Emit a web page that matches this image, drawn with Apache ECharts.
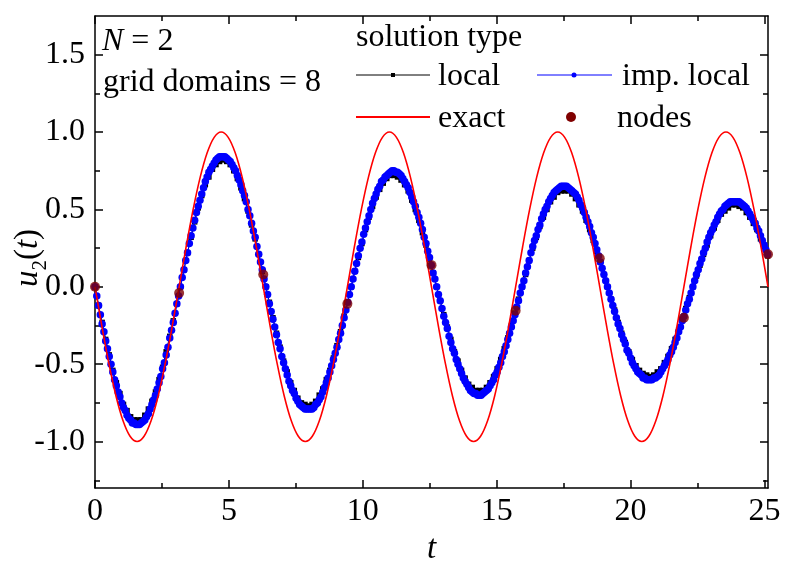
<!DOCTYPE html>
<html>
<head>
<meta charset="utf-8">
<script src="https://cdn.jsdelivr.net/npm/echarts@6/dist/echarts.min.js"></script>
<style>
  html, body { margin: 0; padding: 0; background: #fff; }
  #chart { width: 793px; height: 561px; }
</style>
</head>
<body>
<div id="chart"></div>
<script>
// t range covers 8 grid domains of width pi
const tMax = 8 * Math.PI;

// imp. local solution, sampled every tStepImp starting at t = 0
const tStepImp = 0.06645;
const impLocalU = [
  0, -0.06, -0.12, -0.18, -0.24, -0.29, -0.35, -0.40, -0.45, -0.50, -0.55, -0.60, -0.64, -0.68, -0.71, -0.75, -0.78, -0.80, -0.83, -0.85, -0.86, -0.88, -0.88, -0.89, -0.89,
  -0.89, -0.88, -0.87, -0.86, -0.84, -0.82, -0.79, -0.76, -0.73, -0.70, -0.66, -0.62, -0.58, -0.53, -0.49, -0.44, -0.39, -0.33, -0.28, -0.23, -0.17, -0.11, -0.06, 0,
  0.06, 0.11, 0.17, 0.22, 0.28, 0.33, 0.38, 0.43, 0.48, 0.52, 0.56, 0.60, 0.64, 0.68, 0.71, 0.74, 0.76, 0.78, 0.80, 0.82, 0.83, 0.84, 0.84, 0.84,
  0.84, 0.83, 0.82, 0.81, 0.79, 0.77, 0.75, 0.72, 0.69, 0.66, 0.62, 0.59, 0.55, 0.50, 0.46, 0.41, 0.36, 0.32, 0.26, 0.21, 0.16, 0.11, 0.05, 0,
  -0.05, -0.11, -0.16, -0.21, -0.26, -0.31, -0.36, -0.40, -0.45, -0.49, -0.53, -0.57, -0.61, -0.64, -0.67, -0.69, -0.72, -0.74, -0.76, -0.77, -0.78, -0.79, -0.79, -0.79,
  -0.79, -0.79, -0.78, -0.76, -0.75, -0.73, -0.71, -0.68, -0.65, -0.62, -0.59, -0.55, -0.51, -0.47, -0.43, -0.39, -0.34, -0.30, -0.25, -0.20, -0.15, -0.10, -0.05, 0,
  0.05, 0.10, 0.15, 0.20, 0.25, 0.29, 0.34, 0.38, 0.42, 0.46, 0.50, 0.54, 0.57, 0.60, 0.63, 0.65, 0.68, 0.69, 0.71, 0.72, 0.73, 0.74, 0.75, 0.75,
  0.74, 0.74, 0.73, 0.72, 0.70, 0.68, 0.66, 0.64, 0.61, 0.58, 0.55, 0.52, 0.48, 0.45, 0.41, 0.37, 0.32, 0.28, 0.23, 0.19, 0.14, 0.09, 0.05, 0,
  -0.05, -0.09, -0.14, -0.19, -0.23, -0.27, -0.32, -0.36, -0.40, -0.43, -0.47, -0.50, -0.53, -0.56, -0.59, -0.61, -0.63, -0.65, -0.67, -0.68, -0.69, -0.69, -0.70, -0.70,
  -0.70, -0.69, -0.68, -0.67, -0.66, -0.64, -0.62, -0.60, -0.57, -0.55, -0.52, -0.49, -0.45, -0.42, -0.38, -0.34, -0.30, -0.26, -0.22, -0.18, -0.13, -0.09, -0.04, 0,
  0.04, 0.09, 0.13, 0.17, 0.22, 0.26, 0.30, 0.33, 0.37, 0.40, 0.44, 0.47, 0.50, 0.52, 0.55, 0.57, 0.59, 0.61, 0.62, 0.63, 0.64, 0.65, 0.65, 0.65,
  0.65, 0.64, 0.63, 0.62, 0.61, 0.60, 0.58, 0.56, 0.53, 0.51, 0.48, 0.45, 0.42, 0.39, 0.35, 0.32, 0.28, 0.24, 0.20, 0.16, 0.12, 0.08, 0.04, 0,
  -0.04, -0.08, -0.12, -0.16, -0.20, -0.24, -0.27, -0.31, -0.34, -0.37, -0.41, -0.43, -0.46, -0.49, -0.51, -0.53, -0.55, -0.56, -0.57, -0.59, -0.59, -0.60, -0.60, -0.60,
  -0.60, -0.59, -0.59, -0.58, -0.57, -0.55, -0.53, -0.51, -0.49, -0.47, -0.44, -0.42, -0.39, -0.36, -0.33, -0.29, -0.26, -0.22, -0.19, -0.15, -0.11, -0.08, -0.04, 0,
  0.04, 0.08, 0.11, 0.15, 0.18, 0.22, 0.25, 0.29, 0.32, 0.35, 0.37, 0.40, 0.42, 0.45, 0.47, 0.49, 0.50, 0.52, 0.53, 0.54, 0.55, 0.55, 0.55, 0.55,
  0.55, 0.55, 0.54, 0.53, 0.52, 0.51, 0.49, 0.47, 0.45, 0.43, 0.41, 0.38, 0.36, 0.33, 0.30, 0.27, 0.24, 0.21
];

// local solution, sampled every tStepLocal starting at t = 0
const tStepLocal = 0.1329;
const localU = [
  0, -0.12, -0.23, -0.34, -0.44, -0.54, -0.62, -0.69, -0.76, -0.80, -0.84, -0.86, -0.86,
  -0.86, -0.83, -0.79, -0.74, -0.68, -0.60, -0.52, -0.42, -0.32, -0.22, -0.11, 0,
  0.11, 0.22, 0.32, 0.42, 0.51, 0.59, 0.66, 0.71, 0.76, 0.79, 0.81, 0.82,
  0.81, 0.79, 0.75, 0.70, 0.64, 0.57, 0.49, 0.40, 0.31, 0.21, 0.10, 0,
  -0.10, -0.20, -0.30, -0.39, -0.48, -0.55, -0.62, -0.67, -0.72, -0.75, -0.76, -0.77,
  -0.76, -0.74, -0.70, -0.66, -0.60, -0.54, -0.46, -0.38, -0.29, -0.19, -0.10, 0,
  0.10, 0.19, 0.28, 0.37, 0.45, 0.52, 0.58, 0.63, 0.67, 0.70, 0.72, 0.72,
  0.71, 0.69, 0.66, 0.62, 0.56, 0.50, 0.43, 0.35, 0.27, 0.18, 0.09, 0,
  -0.09, -0.18, -0.26, -0.34, -0.42, -0.48, -0.54, -0.59, -0.63, -0.65, -0.67, -0.67,
  -0.67, -0.65, -0.62, -0.58, -0.53, -0.47, -0.40, -0.33, -0.25, -0.17, -0.08, 0,
  0.08, 0.17, 0.25, 0.32, 0.39, 0.45, 0.50, 0.55, 0.58, 0.61, 0.62, 0.62,
  0.62, 0.60, 0.57, 0.53, 0.49, 0.43, 0.37, 0.30, 0.23, 0.16, 0.08, 0,
  -0.08, -0.15, -0.23, -0.30, -0.36, -0.42, -0.47, -0.51, -0.54, -0.56, -0.57, -0.58,
  -0.57, -0.55, -0.53, -0.49, -0.45, -0.40, -0.34, -0.28, -0.21, -0.14, -0.07, 0,
  0.07, 0.14, 0.21, 0.27, 0.33, 0.38, 0.43, 0.47, 0.49, 0.51, 0.53, 0.53,
  0.52, 0.51, 0.48, 0.45, 0.41, 0.37, 0.31, 0.26, 0.20
];

// exact solution, sampled every pi/12
const tStepExact = Math.PI / 12;
const exactU = [
  0, -0.259, -0.5, -0.707, -0.866, -0.966, -1, -0.966, -0.866, -0.707, -0.5, -0.259,
  0, 0.259, 0.5, 0.707, 0.866, 0.966, 1, 0.966, 0.866, 0.707, 0.5, 0.259,
  0, -0.259, -0.5, -0.707, -0.866, -0.966, -1, -0.966, -0.866, -0.707, -0.5, -0.259,
  0, 0.259, 0.5, 0.707, 0.866, 0.966, 1, 0.966, 0.866, 0.707, 0.5, 0.259,
  0, -0.259, -0.5, -0.707, -0.866, -0.966, -1, -0.966, -0.866, -0.707, -0.5, -0.259,
  0, 0.259, 0.5, 0.707, 0.866, 0.966, 1, 0.966, 0.866, 0.707, 0.5, 0.259,
  0, -0.259, -0.5, -0.707, -0.866, -0.966, -1, -0.966, -0.866, -0.707, -0.5, -0.259,
  0, 0.259, 0.5, 0.707, 0.866, 0.966, 1, 0.966, 0.866, 0.707, 0.5, 0.259,
  0
];

// grid nodes at t = k*pi
const nodeU = [0, -0.04, 0.08, -0.11, 0.14, -0.155, 0.185, -0.20, 0.21];

// tick positions
const xMajorTicks = [0, 5, 10, 15, 20, 25];
const xMinorTicks = [2.5, 7.5, 12.5, 17.5, 22.5];
const yMajorTicks = [-1, -0.5, 0, 0.5, 1, 1.5];
const yMinorTicks = [-1.25, -0.75, -0.25, 0.25, 0.75, 1.25];

const FONT = 'Liberation Serif';
const yMin = -1.3, yMax = 1.75;

function toPairs(step, arr) {
  return arr.map((v, i) => [i * step, v]);
}

function axisDef(dim, position, ticks, len, major, label) {
  return {
    type: 'value',
    position: position,
    min: dim === 'x' ? 0 : yMin,
    max: dim === 'x' ? tMax : yMax,
    axisLine: { show: major, onZero: false, lineStyle: { color: '#000', width: 1.5 } },
    axisTick: { show: true, inside: true, length: len, customValues: ticks, lineStyle: { color: '#000', width: 1.5 } },
    axisLabel: {
      show: label,
      customValues: ticks,
      color: '#000',
      fontFamily: FONT,
      fontSize: 32,
      margin: dim === 'x' ? 8 : 10,
      formatter: dim === 'x' ? (v => String(v)) : (v => v.toFixed(1))
    },
    splitLine: { show: false }
  };
}

const chart = echarts.init(document.getElementById('chart'), null, { renderer: 'canvas' });

const xMain = axisDef('x', 'bottom', xMajorTicks, 8, true, true);
xMain.name = 't';
xMain.nameLocation = 'middle';
xMain.nameGap = 42;
xMain.nameTextStyle = { fontFamily: FONT, fontSize: 33, fontStyle: 'italic', color: '#000' };

const legendFont = { fontFamily: FONT, fontSize: 32, fill: '#000' };

const option = {
  animation: false,
  backgroundColor: '#fff',
  grid: { left: 95, right: 25, top: 16, bottom: 73, containLabel: false, outerBoundsMode: 'none' },
  xAxis: [
    xMain,
    axisDef('x', 'top', xMajorTicks, 8, true, false),
    axisDef('x', 'bottom', xMinorTicks, 5, false, false),
    axisDef('x', 'top', xMinorTicks, 5, false, false)
  ],
  yAxis: [
    axisDef('y', 'left', yMajorTicks, 8, true, true),
    axisDef('y', 'right', yMajorTicks, 8, true, false),
    axisDef('y', 'left', yMinorTicks, 5, false, false),
    axisDef('y', 'right', yMinorTicks, 5, false, false)
  ],
  series: [
    {
      name: 'local',
      type: 'line',
      data: toPairs(tStepLocal, localU),
      symbol: 'rect',
      symbolSize: 5.5,
      lineStyle: { color: '#000', width: 1 },
      itemStyle: { color: '#000' },
      z: 2
    },
    {
      name: 'imp. local',
      type: 'line',
      data: toPairs(tStepImp, impLocalU),
      symbol: 'circle',
      symbolSize: 7.5,
      lineStyle: { color: '#0000ff', width: 1 },
      itemStyle: { color: '#0000ff' },
      z: 3
    },
    {
      name: 'exact',
      type: 'line',
      data: toPairs(tStepExact, exactU),
      symbol: 'none',
      smooth: 0.35,
      lineStyle: { color: '#ff0000', width: 1.6 },
      z: 4
    },
    {
      name: 'nodes',
      type: 'scatter',
      data: toPairs(Math.PI, nodeU),
      symbolSize: 10,
      itemStyle: { color: '#800000' },
      z: 5
    }
  ],
  graphic: [
    // y axis title u_2(t)
    {
      type: 'text', x: 28, y: 258, rotation: Math.PI / 2,
      style: {
        text: '{i|u}{s|2}{n|(}{i|t}{n|)}',
        fontFamily: FONT, fontSize: 33, fill: '#000', align: 'center', verticalAlign: 'middle',
        rich: {
          i: { fontFamily: FONT, fontSize: 33, fontStyle: 'italic' },
          n: { fontFamily: FONT, fontSize: 33 },
          s: { fontFamily: FONT, fontSize: 21, verticalAlign: 'bottom', lineHeight: 46 }
        }
      }
    },
    { type: 'text', x: 102, y: 42, style: { text: '{i|N} = 2', fontFamily: FONT, fontSize: 32, fill: '#000', verticalAlign: 'middle', rich: { i: { fontStyle: 'italic', fontFamily: FONT, fontSize: 32 } } } },
    { type: 'text', x: 103, y: 83, style: Object.assign({ text: 'grid domains = 8', verticalAlign: 'middle' }, legendFont) },
    { type: 'text', x: 356, y: 38, style: Object.assign({ text: 'solution type', verticalAlign: 'middle' }, legendFont) },
    { type: 'line', shape: { x1: 356, y1: 75, x2: 430, y2: 75 }, style: { stroke: '#000', lineWidth: 1 } },
    { type: 'rect', shape: { x: 391, y: 73, width: 4, height: 4 }, style: { fill: '#000' } },
    { type: 'text', x: 438, y: 77, style: Object.assign({ text: 'local', verticalAlign: 'middle' }, legendFont) },
    { type: 'line', shape: { x1: 537, y1: 75, x2: 612, y2: 75 }, style: { stroke: '#0000ff', lineWidth: 1 } },
    { type: 'circle', shape: { cx: 574, cy: 75, r: 2.5 }, style: { fill: '#0000ff' } },
    { type: 'text', x: 622, y: 77, style: Object.assign({ text: 'imp. local', verticalAlign: 'middle' }, legendFont) },
    { type: 'line', shape: { x1: 356, y1: 117, x2: 430, y2: 117 }, style: { stroke: '#ff0000', lineWidth: 2 } },
    { type: 'text', x: 438, y: 119, style: Object.assign({ text: 'exact', verticalAlign: 'middle' }, legendFont) },
    { type: 'circle', shape: { cx: 571, cy: 117, r: 5 }, style: { fill: '#800000' } },
    { type: 'text', x: 617, y: 119, style: Object.assign({ text: 'nodes', verticalAlign: 'middle' }, legendFont) }
  ]
};

chart.setOption(option);
</script>
</body>
</html>
